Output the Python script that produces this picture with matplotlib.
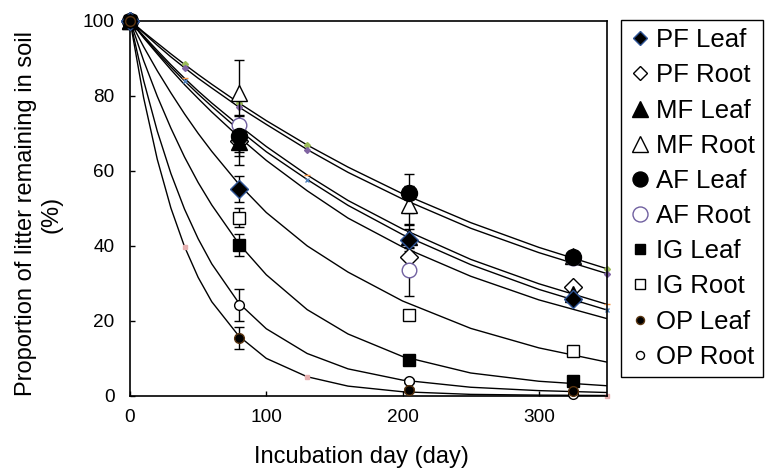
import matplotlib
matplotlib.use("Agg")
import matplotlib.pyplot as plt
from matplotlib.lines import Line2D

plt.rcParams['font.family'] = ['Liberation Sans', 'DejaVu Sans']

# ---------------- data ----------------
days = [0, 80, 205, 325]

labels = ["PF Leaf", "PF Root", "MF Leaf", "MF Root", "AF Leaf",
          "AF Root", "IG Leaf", "IG Root", "OP Leaf", "OP Root"]

pf_leaf = [100, 55.0, 41.5, 25.8]
pf_root = [100, 68.0, 37.0, 29.0]
mf_leaf = [100, 67.5, 42.4, 27.0]
mf_root = [100, 80.8, 50.8, 37.2]
af_leaf = [100, 69.3, 53.9, 36.9]
af_root = [100, 72.2, 33.6, 36.6]
ig_leaf = [100, 40.2, 9.6, 3.8]
ig_root = [100, 47.4, 21.5, 12.0]
op_leaf = [100, 15.3, 1.4, 1.1]
op_root = [100, 24.2, 3.8, 0.5]

pf_leaf_err = [0, 3.5, 3.0, 0.8]
pf_root_err = [0, 3.0, 2.5, 0.8]
mf_leaf_err = [0, 6.0, 3.0, 0.8]
mf_root_err = [0, 8.8, 5.0, 0.8]
af_leaf_err = [0, 5.3, 5.3, 0.8]
af_root_err = [0, 2.5, 7.0, 0.8]
ig_leaf_err = [0, 3.0, 1.0, 0.5]
ig_root_err = [0, 2.5, 1.0, 0.5]
op_leaf_err = [0, 2.9, 0.5, 0.3]
op_root_err = [0, 4.3, 0.5, 0.3]

# fitted decay curves
curve_x = [0, 10, 20, 30, 40, 50, 60, 80, 100, 130, 160, 200, 250, 300, 350]
curve_1 = [100, 96.9, 94.0, 91.1, 88.3, 85.6, 83.0, 78.0, 73.3, 66.8, 60.9, 53.8, 46.1, 39.5, 33.8]
curve_2 = [100, 96.7, 93.4, 90.3, 87.4, 84.6, 82.0, 76.9, 72.3, 65.6, 59.5, 52.4, 44.6, 38.1, 32.5]
curve_3 = [100, 95.9, 92.0, 88.2, 84.6, 81.2, 78.0, 72.0, 66.4, 58.8, 52.0, 44.4, 36.3, 29.8, 24.3]
curve_4 = [100, 95.6, 91.5, 87.6, 83.9, 80.4, 77.1, 70.8, 65.0, 57.6, 50.7, 42.9, 34.9, 28.3, 22.8]
curve_5 = [100, 95.4, 91.1, 86.9, 82.9, 79.2, 75.6, 68.9, 62.7, 54.6, 47.3, 39.6, 31.8, 25.5, 20.5]
curve_6 = [100, 93.0, 86.6, 80.7, 75.1, 69.9, 65.1, 56.3, 48.8, 39.9, 32.9, 25.2, 17.9, 12.7, 8.9]
curve_7 = [100, 89.3, 79.8, 71.3, 63.6, 56.8, 50.8, 40.4, 32.2, 22.9, 16.4, 10.4, 6.0, 3.8, 2.6]
curve_8 = [100, 84.0, 70.5, 59.2, 49.7, 41.8, 35.1, 24.6, 17.8, 11.2, 7.1, 4.1, 2.2, 1.3, 0.8]
curve_9 = [100, 79.4, 63.0, 50.0, 39.7, 31.5, 25.0, 15.8, 9.9, 5.0, 2.5, 1.0, 0.3, 0.1, 0.0]

# small coloured point markers sitting on some curves
dot_days = [40, 80, 130, 350]

# ---------------- figure ----------------
fig = plt.figure(figsize=(7.68, 4.70), dpi=100)
ax = fig.add_axes([130 / 768, 1 - 395.5 / 470, (607 - 130) / 768, (395.5 - 20.5) / 470])

curves = [curve_1, curve_2, curve_3, curve_4, curve_5, curve_6, curve_7, curve_8, curve_9]
for c in curves:
    ax.plot(curve_x, c, color='black', lw=1.0, zorder=2)

dot_specs = [
    (curve_1, '#9BBB59', 'D', 3.0),
    (curve_2, '#8064A2', 'D', 3.0),
    (curve_3, '#F79646', '_', 4.0),
    (curve_4, '#4F81BD', 'x', 3.5),
    (curve_9, '#E6B0B0', 's', 3.5),
]
for c, col, mk, ms in dot_specs:
    xs = [d for d in dot_days]
    ys = [c[curve_x.index(d)] for d in dot_days]
    ax.plot(xs, ys, ls='none', marker=mk, color=col, ms=ms, mew=1.0, zorder=2.5, clip_on=False)

# series styles: (values, errors, marker, size, face, edge)
series = {
    "PF Leaf": (pf_leaf, pf_leaf_err, 'D', 9.5, 'black', '#2F5597'),
    "PF Root": (pf_root, pf_root_err, 'D', 9.0, 'white', 'black'),
    "MF Leaf": (mf_leaf, mf_leaf_err, '^', 11.0, 'black', 'black'),
    "MF Root": (mf_root, mf_root_err, '^', 12.0, 'white', 'black'),
    "AF Leaf": (af_leaf, af_leaf_err, 'o', 11.5, 'black', 'black'),
    "AF Root": (af_root, af_root_err, 'o', 10.5, 'white', '#7060A0'),
    "IG Leaf": (ig_leaf, ig_leaf_err, 's', 8.6, 'black', 'black'),
    "IG Root": (ig_root, ig_root_err, 's', 8.6, 'white', 'black'),
    "OP Leaf": (op_leaf, op_leaf_err, 'o', 7.0, 'black', '#5A3510'),
    "OP Root": (op_root, op_root_err, 'o', 7.0, 'white', 'black'),
}

for name in labels:
    vals, errs = series[name][0], series[name][1]
    ax.errorbar(days, vals, yerr=errs, fmt='none', ecolor='black', elinewidth=1.0,
                capsize=3.5, capthick=1.0, zorder=3)

draw_order = ["PF Root", "MF Root", "MF Leaf", "AF Root", "AF Leaf", "PF Leaf",
              "IG Root", "IG Leaf", "OP Root", "OP Leaf"]
for i, name in enumerate(draw_order):
    vals, errs, mk, ms, fc, ec = series[name]
    ax.plot(days, vals, ls='none', marker=mk, ms=ms, mfc=fc, mec=ec, mew=1.0,
            zorder=4 + i * 0.01, clip_on=False)

ax.set_xlim(0, 350)
ax.set_ylim(0, 100)
ax.set_xticks([0, 100, 200, 300])
ax.set_yticks([0, 20, 40, 60, 80, 100])
ax.tick_params(axis='both', direction='in', length=3.6, width=1.0, labelsize=13.7, colors='black')
ax.tick_params(axis='y', pad=11)
ax.tick_params(axis='x', pad=10)
for sp in ax.spines.values():
    sp.set_linewidth(1.2)
    sp.set_color('black')

fig.text(39 / 768, 1 - 214 / 470, "Proportion of litter remaining in soil\n(%)",
         rotation=90, ha='center', va='center', fontsize=17, linespacing=1.2)
fig.text(361 / 768, 1 - 456.7 / 470, "Incubation day (day)", ha='center', va='center', fontsize=17)

# legend
leg_sizes = {"PF Leaf": 7.5, "PF Root": 7.5, "MF Leaf": 11.0, "MF Root": 11.0,
             "AF Leaf": 10.8, "AF Root": 10.8, "IG Leaf": 7.2, "IG Root": 7.2,
             "OP Leaf": 5.8, "OP Root": 5.8}
handles = []
for name in labels:
    vals, errs, mk, ms, fc, ec = series[name]
    handles.append(Line2D([], [], ls='none', marker=mk, ms=leg_sizes[name], mfc=fc, mec=ec, mew=1.0))

leg = fig.legend(handles, labels, loc='upper left', bbox_to_anchor=(621 / 768, 1 - 20 / 470),
                 bbox_transform=fig.transFigure, borderaxespad=0, fontsize=18.5,
                 frameon=True, fancybox=False, edgecolor='black', framealpha=1,
                 borderpad=0.32, labelspacing=0.435, handlelength=0.8, handletextpad=0.25)
leg.get_frame().set_linewidth(1.0)

fig.savefig("out.png", dpi=100)
